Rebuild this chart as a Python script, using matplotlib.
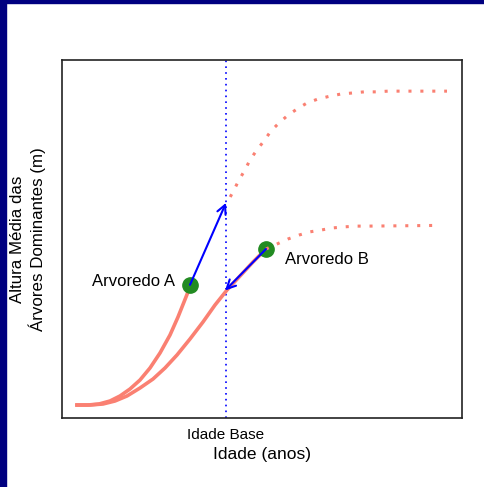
import matplotlib.pyplot as plt
from matplotlib.patches import Rectangle

plt.rcParams['font.family'] = ['Liberation Sans', 'DejaVu Sans']

# ages / heights (arbitrary units, axes 0-100)
idade_base = 41

# stand A: observed growth up to the plot, then projected after base age
a_idade = [3.75, 6.5, 9.25, 12, 14.5, 17, 19.5, 22, 24.5, 27, 29, 30.5, 31.5]
a_altura = [3.63, 3.63, 3.91, 4.75, 6.15, 8.10, 10.61, 13.97, 18.16, 23.18,
            28.21, 32.40, 35.20]
a_proj_idade = [41, 41.5, 43, 44.25, 45.75, 47, 48.75, 50.5, 52.25, 54.25, 56.5,
                58.75, 61.25, 64, 67, 69.75, 72.75, 75.5, 78.5, 81.5, 96.25]
a_proj_altura = [60.1, 60.6, 63.7, 66.5, 69.3, 72.1, 74.9, 77.4, 80.2, 82.4, 84.6,
                 86.3, 88.0, 89.1, 89.9, 90.5, 90.8, 91.1, 91.1, 91.3, 91.3]

# stand B
b_idade = [3.75, 7, 10.25, 13.25, 16.25, 19.5, 22.75, 25.75, 28.75, 32, 35.25,
           38.25, 41.25, 44.5, 47.75, 50.25]
b_altura = [3.63, 3.63, 3.91, 4.75, 6.15, 8.38, 10.89, 13.97, 17.60, 22.07, 26.82,
            31.56, 35.75, 39.66, 43.58, 46.37]
b_proj_idade = [51, 53.75, 56.5, 59.25, 62, 64.75, 67.75, 70.75, 73.5, 76.5, 94.5]
b_proj_altura = [47.2, 48.6, 50.0, 51.1, 52.0, 52.5, 53.1, 53.4, 53.6, 53.6, 53.8]

# measured plots
parcelas_idade = [32, 51]
parcelas_altura = [37.2, 47.2]
# arrow ends at base age
seta_fim = [(41, 60.1), (40.75, 35.6)]

salmon = '#FA8072'

fig = plt.figure(figsize=(4.84, 4.87), dpi=100)
fig.patches.append(Rectangle((0, 1 - 3 / 487), 1, 3 / 487, transform=fig.transFigure,
                             color='#000080', zorder=0))
fig.patches.append(Rectangle((0, 0), 6 / 484, 1, transform=fig.transFigure,
                             color='#000080', zorder=0))

ax = fig.add_axes([62 / 484, 69 / 487, 400 / 484, 358 / 487])
ax.set_xlim(0, 100)
ax.set_ylim(0, 100)

ax.axvline(idade_base, color='blue', lw=1.2, linestyle=(0, (1, 2.5)), zorder=1)

ax.plot(a_idade, a_altura, color=salmon, lw=2.6, zorder=2)
ax.plot(b_idade, b_altura, color=salmon, lw=2.6, zorder=2)

ax.plot(parcelas_idade, parcelas_altura, 'o', color='forestgreen', ms=11, zorder=3)

ax.plot(a_proj_idade, a_proj_altura, color=salmon, lw=2.2,
        linestyle=(1.5, (1, 2.9)), zorder=4)
ax.plot(b_proj_idade, b_proj_altura, color=salmon, lw=2.2,
        linestyle=(0, (1, 2.9)), zorder=4)

for (x0, y0), (x1, y1) in zip(zip(parcelas_idade, parcelas_altura), seta_fim):
    ax.annotate('', xy=(x1, y1), xytext=(x0, y0),
                arrowprops=dict(arrowstyle='->', color='blue', lw=1.5,
                                mutation_scale=16, shrinkA=0, shrinkB=0),
                zorder=5)

ax.text(28.25, 38.0, 'Arvoredo A', ha='right', va='center', fontsize=12)
ax.text(55.75, 44.4, 'Arvoredo B', ha='left', va='center', fontsize=12)

ax.set_xticks([idade_base])
ax.set_xticklabels(['Idade Base'], fontsize=11)
ax.set_yticks([])
ax.tick_params(axis='x', length=0, pad=7)
ax.set_xlabel('Idade (anos)', fontsize=12.5, labelpad=4)

for s in ax.spines.values():
    s.set_linewidth(1.2)
    s.set_color('#222222')

fig.text(28 / 484, (487 - 239) / 487, 'Altura Média das\nÁrvores Dominantes (m)',
         rotation=90, ha='center', va='center', multialignment='center', fontsize=12.2)

fig.savefig('out.png', dpi=100)
